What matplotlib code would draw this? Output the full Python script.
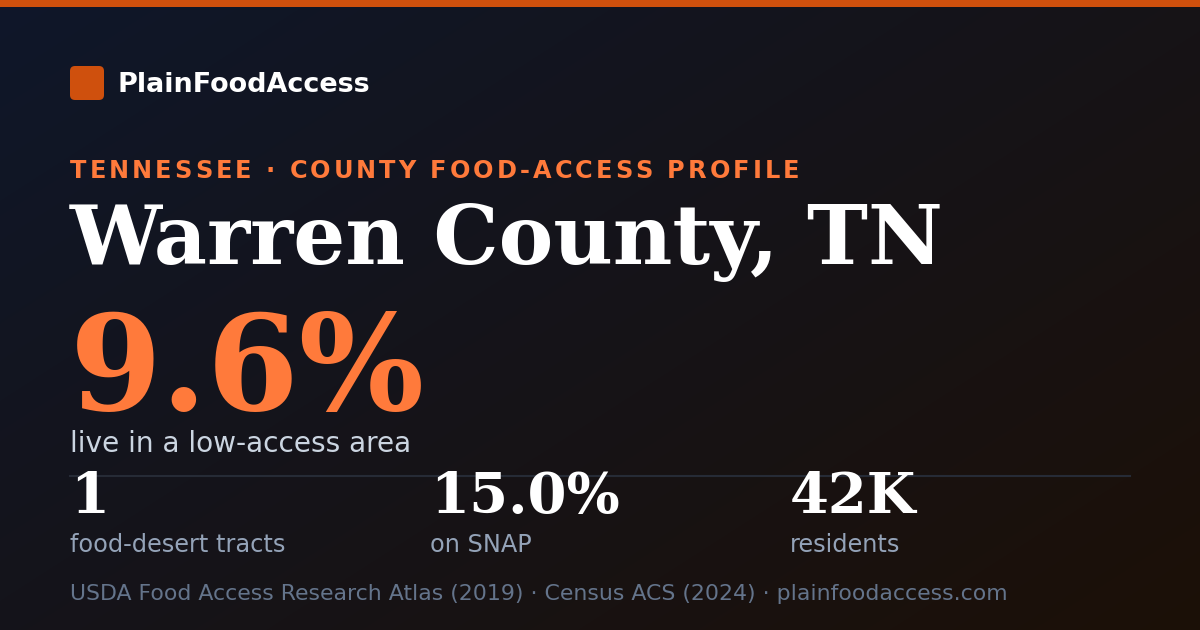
import numpy as np
import matplotlib.pyplot as plt
from matplotlib.patches import FancyBboxPatch, Rectangle
from matplotlib.colors import to_rgb

# card text
brand = 'PlainFoodAccess'
kicker = 'TENNESSEE · COUNTY FOOD-ACCESS PROFILE'
title = 'Warren County, TN'
headline_value = '9.6%'
headline_label = 'live in a low-access area'
stat_values = ['1', '15.0%', '42K']
stat_labels = ['food-desert tracts', 'on SNAP', 'residents']
footer = 'USDA Food Access Research Atlas (2019) · Census ACS (2024) · plainfoodaccess.com'

W, H = 1200, 630
fig = plt.figure(figsize=(12, 6.3), dpi=100)
ax = fig.add_axes([0, 0, 1, 1])
ax.set_xlim(0, W)
ax.set_ylim(H, 0)
ax.axis('off')

def px(p):
    # pixel size -> points
    return p * 0.72

# diagonal background gradient
c0 = np.array(to_rgb('#0f172a'))
c1 = np.array(to_rgb('#1c1007'))
yy, xx = np.mgrid[0:H, 0:W]
t = (xx / W * 0.55 + yy / H * 0.45)
t = np.clip(t, 0, 1)[..., None]
img = c0 * (1 - t) + c1 * t
ax.imshow(img, extent=[0, W, H, 0], aspect='auto', zorder=0)

# top bar
ax.add_patch(Rectangle((0, 0), W, 7, color='#cf500d', zorder=2, lw=0))

# logo
ax.add_patch(FancyBboxPatch((70 + 5, 66 + 5), 34 - 10, 34 - 10,
                            boxstyle='round,pad=5', color='#cf500d', lw=0, zorder=2))
ax.text(118, 92, brand, fontsize=px(27), fontweight='bold', color='white',
        family='DejaVu Sans', va='baseline', ha='left')

# letter-spaced kicker
fig.canvas.draw()
r = fig.canvas.get_renderer()
x = 70.0
spacing = 3.0
ksize = px(24)
for ch in kicker:
    tt = ax.text(x, 178, ch, fontsize=ksize, fontweight='bold', color='#ff7a3b',
                 family='DejaVu Sans', va='baseline', ha='left')
    if ch == ' ':
        probe = ax.text(0, 0, 'a a', fontsize=ksize, fontweight='bold', family='DejaVu Sans')
        probe2 = ax.text(0, 0, 'aa', fontsize=ksize, fontweight='bold', family='DejaVu Sans')
        wdt = probe.get_window_extent(r).width - probe2.get_window_extent(r).width
        probe.remove()
        probe2.remove()
    else:
        wdt = tt.get_window_extent(r).width
    x += wdt + spacing

# title
ax.text(70, 264, title, fontsize=px(82), fontweight='bold', color='white',
        family='DejaVu Serif', va='baseline', ha='left')

# headline
ax.text(70, 410, headline_value, fontsize=px(132), fontweight='bold', color='#ff7a3b',
        family='DejaVu Serif', va='baseline', ha='left')
ax.text(70, 452, headline_label, fontsize=px(28), color='#cbd5e1',
        family='DejaVu Sans', va='baseline', ha='left')

# divider
ax.plot([70, 1130], [475.5, 475.5], color='#262b36', lw=1.5, zorder=1)

# stats row
stat_x = [70, 430, 790]
for sx, v, lab in zip(stat_x, stat_values, stat_labels):
    ax.text(sx, 513, v, fontsize=px(56), fontweight='bold', color='white',
            family='DejaVu Serif', va='baseline', ha='left', zorder=3)
    ax.text(sx, 552, lab, fontsize=px(24), color='#94a3b8',
            family='DejaVu Sans', va='baseline', ha='left')

# footer
ax.text(70, 600, footer, fontsize=px(22), color='#64748b',
        family='DejaVu Sans', va='baseline', ha='left')

fig.savefig('out.png', dpi=100)
